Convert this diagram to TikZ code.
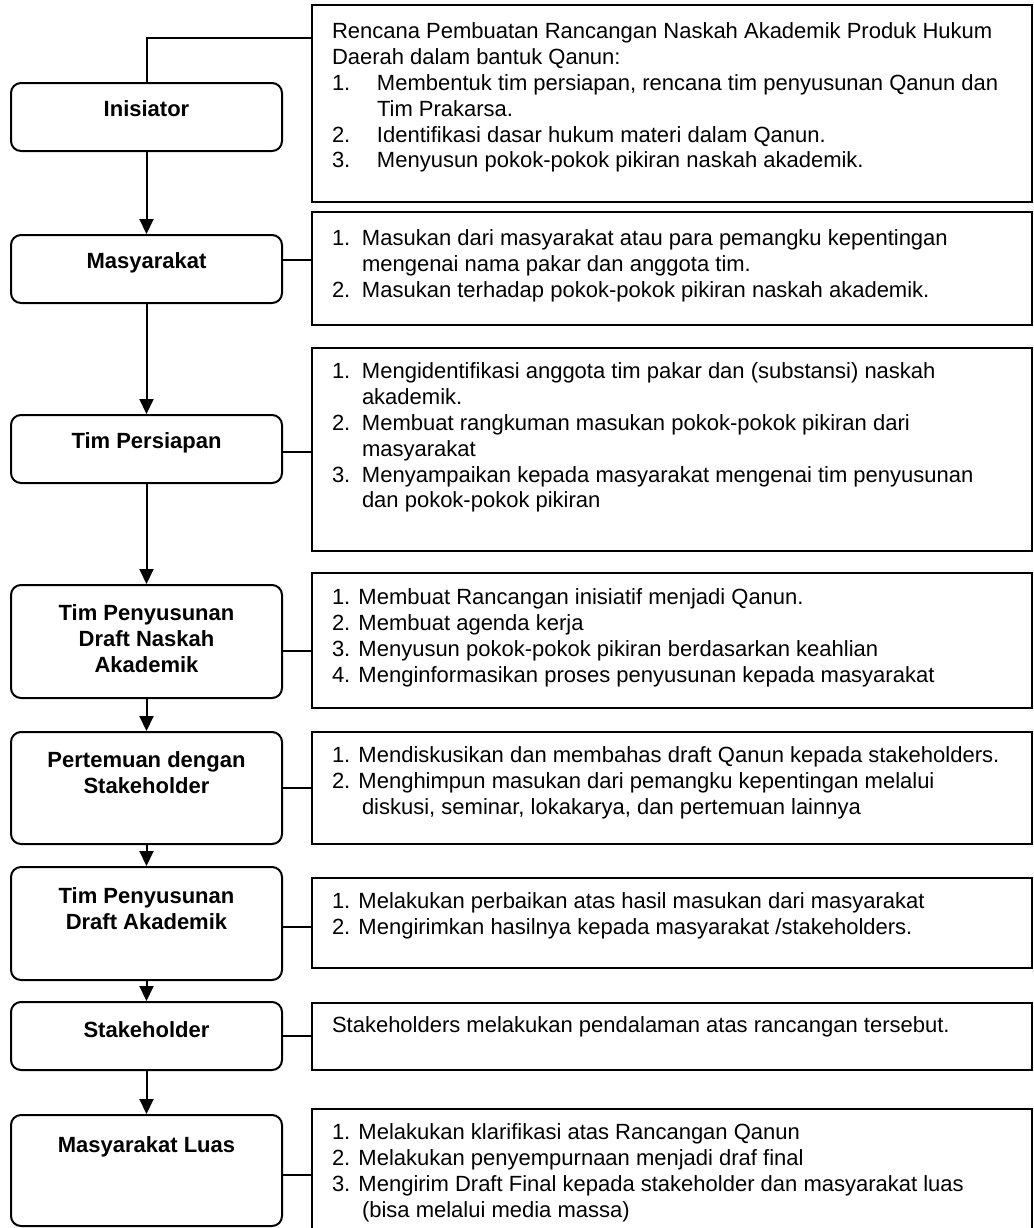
\documentclass[tikz,border=0pt]{standalone}
\usepackage{fontspec}
\setmainfont{Liberation Sans}
\usepackage{tikz}
\usetikzlibrary{positioning, arrows.meta}
\newcommand{\nr}[2]{\makebox[#1][l]{#2}}
\newcommand{\cont}[1]{\hspace*{#1}}

\begin{document}
\begin{tikzpicture}[x=0.5pt, y=-0.5pt, line width=1pt]
	\tikzstyle{lbox}=[rectangle, rounded corners=5pt, draw=black, minimum width=135.5pt]
	\tikzstyle{rbox}=[rectangle, draw=black, minimum width=360pt]
	\tikzstyle{ltext}=[inner sep=0pt, align=center, font=\bfseries\fontsize{11}{12.9}\selectfont]
	\tikzstyle{rtext}=[inner sep=0pt, align=left, font=\fontsize{11}{12.9}\selectfont]
	\tikzstyle{arr}=[-{Triangle[length=7.5pt, width=7pt]}]
	\useasboundingbox (0,0) rectangle (1034,1228);

	% left column
	\node (l1) at (146.5,117) [lbox, minimum height=34pt]{};
	\node (l2) at (146.5,269) [lbox, minimum height=34pt]{};
	\node (l3) at (146.5,449) [lbox, minimum height=34pt]{};
	\node (l4) at (146.5,641.5) [lbox, minimum height=56.5pt]{};
	\node (l5) at (146.5,788) [lbox, minimum height=56pt]{};
	\node (l6) at (146.5,923.5) [lbox, minimum height=56.5pt]{};
	\node (l7) at (146.5,1036) [lbox, minimum height=34pt]{};
	\node (l8) at (146.5,1170.5) [lbox, minimum height=55.5pt]{};

	\node (lt1) [ltext, below=9pt of l1.north] {Inisiator};
	\node (lt2) [ltext, below=9pt of l2.north] {Masyarakat};
	\node (lt3) [ltext, below=9pt of l3.north] {Tim Persiapan};
	\node (lt4) [ltext, below=10pt of l4.north] {Tim Penyusunan\\Draft Naskah\\Akademik};
	\node (lt5) [ltext, below=10pt of l5.north] {Pertemuan dengan\\Stakeholder};
	\node (lt6) [ltext, below=10.5pt of l6.north] {Tim Penyusunan\\Draft Akademik};
	\node (lt7) [ltext, below=10pt of l7.north] {Stakeholder};
	\node (lt8) [ltext, below=11pt of l8.north] {Masyarakat Luas};

	% right column
	\node (r1) at (672,103.5) [rbox, minimum height=98.5pt]{};
	\node (r2) at (672,268.5) [rbox, minimum height=56.5pt]{};
	\node (r3) at (672,449.5) [rbox, minimum height=101.5pt]{};
	\node (r4) at (672,640.5) [rbox, minimum height=67.5pt]{};
	\node (r5) at (672,788) [rbox, minimum height=56pt]{};
	\node (r6) at (672,923) [rbox, minimum height=45pt]{};
	\node (r7) at (672,1036.5) [rbox, minimum height=33.5pt]{};
	\node (r8) at (672,1170.5) [rbox, minimum height=61.5pt]{};

	\node (rt1) [rtext, below right=9pt and 10pt of r1.north west] {Rencana Pembuatan Rancangan Naskah Akademik Produk Hukum\\
		Daerah dalam bantuk Qanun:\\
		\nr{22.5pt}{1.}Membentuk tim persiapan, rencana tim penyusunan Qanun dan\\
		\cont{22.5pt}Tim Prakarsa.\\
		\nr{22.5pt}{2.}Identifikasi dasar hukum materi dalam Qanun.\\
		\nr{22.5pt}{3.}Menyusun pokok-pokok pikiran naskah akademik.};
	\node (rt2) [rtext, below right=9pt and 10pt of r2.north west] {\nr{15pt}{1.}Masukan dari masyarakat atau para pemangku kepentingan\\
		\cont{15pt}mengenai nama pakar dan anggota tim.\\
		\nr{15pt}{2.}Masukan terhadap pokok-pokok pikiran naskah akademik.};
	\node (rt3) [rtext, below right=7.5pt and 10pt of r3.north west] {\nr{15pt}{1.}Mengidentifikasi anggota tim pakar dan (substansi) naskah\\
		\cont{15pt}akademik.\\
		\nr{15pt}{2.}Membuat rangkuman masukan pokok-pokok pikiran dari\\
		\cont{15pt}masyarakat\\
		\nr{15pt}{3.}Menyampaikan kepada masyarakat mengenai tim penyusunan\\
		\cont{15pt}dan pokok-pokok pikiran};
	\node (rt4) [rtext, below right=8pt and 10pt of r4.north west] {1. Membuat Rancangan inisiatif menjadi Qanun.\\
		2. Membuat agenda kerja\\
		3. Menyusun pokok-pokok pikiran berdasarkan keahlian\\
		4. Menginformasikan proses penyusunan kepada masyarakat};
	\node (rt5) [rtext, below right=7.5pt and 10pt of r5.north west] {1. Mendiskusikan dan membahas draft Qanun kepada stakeholders.\\
		2. Menghimpun masukan dari pemangku kepentingan melalui\\
		\cont{15pt}diskusi, seminar, lokakarya, dan pertemuan lainnya};
	\node (rt6) [rtext, below right=7.5pt and 10pt of r6.north west] {1. Melakukan perbaikan atas hasil masukan dari masyarakat\\
		2. Mengirimkan hasilnya kepada masyarakat /stakeholders.};
	\node (rt7) [rtext, below right=7pt and 10pt of r7.north west] {Stakeholders melakukan pendalaman atas rancangan tersebut.};
	\node (rt8) [rtext, below right=7.5pt and 10pt of r8.north west] {1. Melakukan klarifikasi atas Rancangan Qanun\\
		2. Melakukan penyempurnaan menjadi draf final\\
		3. Mengirim Draft Final kepada stakeholder dan masyarakat luas\\
		\cont{15pt}(bisa melalui media massa)};

	% flow
	\draw[arr] (l1) -- (l2);
	\draw[arr] (l2) -- (l3);
	\draw[arr] (l3) -- (l4);
	\draw[arr] (l4) -- (l5);
	\draw[arr] (l5) -- (l6);
	\draw[arr] (l6) -- (l7);
	\draw[arr] (l7) -- (l8);

	% links to the notes
	\coordinate (c1) at (146.5,38);
	\draw (l1.north) -- (c1) -- (c1 -| r1.west);
	\draw ([yshift=4.5pt]l2.east) -- ([yshift=4.5pt]l2.east -| r2.west);
	\draw ([yshift=-1.5pt]l3.east) -- ([yshift=-1.5pt]l3.east -| r3.west);
	\draw ([yshift=-4.75pt]l4.east) -- ([yshift=-4.75pt]l4.east -| r4.west);
	\draw (l5.east) -- (l5.east -| r5.west);
	\draw ([yshift=-1.75pt]l6.east) -- ([yshift=-1.75pt]l6.east -| r6.west);
	\draw (l7.east) -- (l7.east -| r7.west);
	\draw ([yshift=-2.25pt]l8.east) -- ([yshift=-2.25pt]l8.east -| r8.west);
\end{tikzpicture}
\end{document}
